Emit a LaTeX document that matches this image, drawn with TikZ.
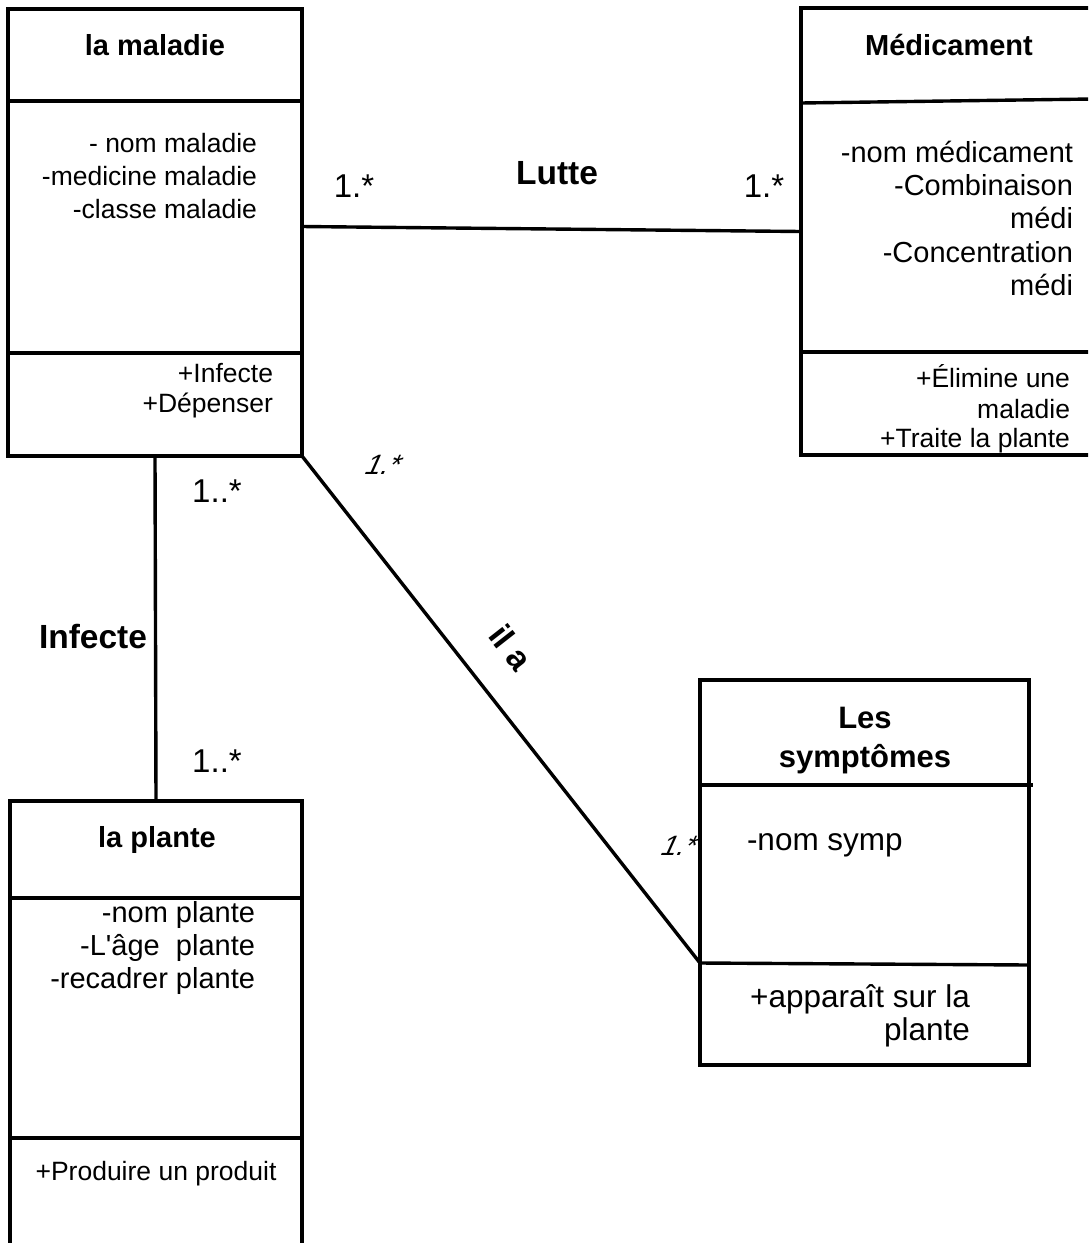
\documentclass[tikz,border=0pt]{standalone}
\usepackage{fontspec}
\setmainfont{Liberation Sans}
\newfontfamily\nomapfont{Liberation Sans}
\newfontfamily\slantfont{Liberation Sans}[FakeSlant=0.45]
\newcommand\fsA{\fontsize{26.5}{32}\selectfont}
\newcommand\fsB{\fontsize{29}{34}\selectfont}
\newcommand\fsC{\fontsize{31.5}{36}\selectfont}
\newcommand\fsT{\bfseries\fontsize{29}{34}\selectfont}
\newcommand\fsL{\bfseries\fontsize{33.5}{38}\selectfont}
\newcommand\fsM{\fontsize{33}{38}\selectfont}
\begin{document}
\begin{tikzpicture}[x=1pt,y=-1pt,line width=3.4pt,
  box/.style={draw, rectangle, inner sep=0pt, outer sep=0pt, anchor=north west},
  lbl/.style={inner sep=0pt, outer sep=0pt},
  rt/.style={lbl, anchor=base east},
  lt/.style={lbl, anchor=base west},
  ct/.style={lbl, anchor=base},
  assoc/.style={line width=3.4pt}]
\useasboundingbox (0,0) rectangle (1088,1243);
\clip (0,0) rectangle (1088,1243);
\fill[white] (0,0) rectangle (1088,1243);

% ---- la maladie ----
\node[box, minimum width=294pt, minimum height=447pt] (mal) at (8,9) {};
\draw (mal.west |- 0,101) -- (mal.east |- 0,101);
\draw (mal.west |- 0,353) -- (mal.east |- 0,353);
\node[ct, font=\fsT] (malT) at (155,55) {la maladie};
\node[rt, font=\fsA] (malA1) at (257,152) {- nom maladie};
\node[rt, font=\fsA] (malA2) at (257,185) {-medicine maladie};
\node[rt, font=\fsA] (malA3) at (257,218) {-classe maladie};
\node[rt, font=\fsA] (malO1) at (273,382) {+Infecte};
\node[rt, font=\fsA] (malO2) at (273,412) {+Dépenser};

% ---- Médicament ----
\node[box, minimum width=300pt, minimum height=447pt] (med) at (801,8) {};
\draw (med.west |- 0,103) -- (1092,99);
\draw (med.west |- 0,352) -- (med.east |- 0,352);
\node[ct, font=\fsT] (medT) at (949,55) {Médicament};
\node[rt, font=\fsB] (medA1) at (1073,162) {-nom médicament};
\node[rt, font=\fsB] (medA2) at (1073,195) {-Combinaison};
\node[rt, font=\fsB] (medA3) at (1073,228) {médi};
\node[rt, font=\fsB] (medA4) at (1073,262) {-Concentration};
\node[rt, font=\fsB] (medA5) at (1073,295) {médi};
\node[rt, font=\fsA] (medO1) at (1070,387) {+Élimine une};
\node[rt, font=\fsA] (medO2) at (1070,418) {maladie};
\node[rt, font=\fsA] (medO3) at (1070,447) {+Traite la plante};

% ---- la plante ----
\node[box, minimum width=292pt, minimum height=480pt] (pl) at (10,801) {};
\draw (pl.west |- 0,898) -- (pl.east |- 0,898);
\draw (pl.west |- 0,1138) -- (pl.east |- 0,1138);
\node[ct, font=\fsT] (plT) at (157,847) {la plante};
\node[rt, font=\fsB] (plA1) at (255,922) {-nom plante};
\node[rt, font=\nomapfont\fsB] (plA2) at (255,955) {-L'âge\ \ plante};
\node[rt, font=\fsB] (plA3) at (255,988) {-recadrer plante};
\node[ct, font=\fsA] (plO1) at (156,1180) {+Produire un produit};

% ---- Les symptômes ----
\node[box, minimum width=329pt, minimum height=385pt] (sym) at (700,680) {};
\draw (sym.west |- 0,785) -- ([xshift=4pt]sym.east |- 0,785);
\coordinate (symsep) at (sym.west |- 0,963);
\draw (symsep) -- (sym.east |- 0,965);
\node[ct, font=\fsT\fontsize{31}{36}\selectfont] (symT1) at (865,728) {Les};
\node[ct, font=\fsT\fontsize{31}{36}\selectfont] (symT2) at (865,767) {symptômes};
\node[lt, font=\fsC] (symA1) at (747,850) {-nom symp};
\node[rt, font=\fsC] (symO1) at (970,1007) {+apparaît sur la};
\node[rt, font=\fsC] (symO2) at (970,1040) {plante};

% ---- associations ----
\draw[assoc] ([yshift=6pt]mal.east) -- (med.west);
\node[ct, font=\fsL] (lutte) at (557,184) {Lutte};
\node[ct, font=\fsM] (m1) at (354,197) {1.*};
\node[ct, font=\fsM] (m2) at (764,197) {1.*};

\draw[assoc] (mal.south east) -- (symsep);
\draw[assoc] (mal.south) -- (pl.north);
\node[ct, font=\fsL] (infecte) at (93,648) {Infecte};
\node[ct, font=\fsM] (m3) at (217,502) {1..*};
\node[ct, font=\fsM] (m4) at (217,772) {1..*};

\node[lbl, font=\fsL, rotate=-51.9] (ila) at (511,647) {il a};
\node[ct, font=\slantfont\fontsize{28}{30}\selectfont] (m5) at (380,474) {1.*};
\node[ct, font=\slantfont\fontsize{28}{30}\selectfont] (m6) at (676,855) {1.*};
\end{tikzpicture}
\end{document}
